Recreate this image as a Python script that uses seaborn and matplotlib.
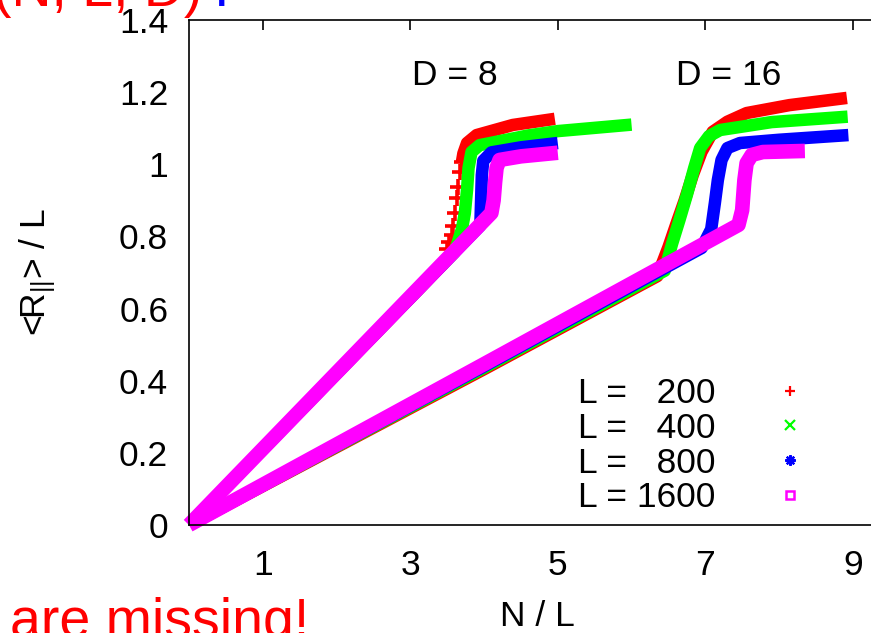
import numpy as np
import pandas as pd
import matplotlib
matplotlib.use("Agg")
import matplotlib.pyplot as plt
import seaborn as sns
from matplotlib.lines import Line2D
from matplotlib.ticker import FuncFormatter

sns.set_theme(style="white")
plt.rcParams['font.family'] = ['Liberation Sans', 'DejaVu Sans']
plt.rcParams['mathtext.fontset'] = 'custom'
plt.rcParams['mathtext.rm'] = 'Liberation Sans'
plt.rcParams['mathtext.it'] = 'Liberation Sans:italic'
for k in ['text.color', 'axes.labelcolor', 'xtick.color', 'ytick.color', 'axes.edgecolor']:
    plt.rcParams[k] = 'black'

# ---------------- data ----------------
L_labels = ["L =   200", "L =   400", "L =   800", "L = 1600"]
colors = ["#ff0000", "#00ff00", "#0000ff", "#ff00ff"]

# D = 8
d8_L200_x = [0.0, 1.0, 2.0, 3.0, 3.45]
d8_L200_y = [0.0, 0.21, 0.42, 0.63, 0.725]
d8_L200_top_x = [3.70, 3.72, 3.77, 3.90, 4.39, 4.96]
d8_L200_top_y = [1.006, 1.03, 1.059, 1.081, 1.109, 1.126]
d8_L200_steep_x = [3.50, 3.53, 3.56, 3.58, 3.60, 3.63, 3.65, 3.67, 3.70]
d8_L200_steep_y = [0.765, 0.785, 0.804, 0.83, 0.865, 0.906, 0.937, 0.979, 1.006]

d8_L400_x = [0.0, 1.0, 2.0, 3.0, 3.6, 3.7, 3.74, 3.77, 3.79, 3.83, 3.94, 4.6, 5.0, 6.0]
d8_L400_y = [0.0, 0.21, 0.42, 0.63, 0.756, 0.82, 0.865, 0.93, 0.99, 1.034, 1.053, 1.08, 1.092, 1.11]

d8_L800_x = [0.0, 1.0, 2.0, 3.0, 3.95, 3.96, 3.97, 3.99, 4.1, 4.5, 5.0]
d8_L800_y = [0.0, 0.21, 0.42, 0.63, 0.83, 0.9, 0.97, 1.01, 1.033, 1.047, 1.059]

d8_L1600_x = [0.0, 1.0, 2.0, 3.0, 4.1, 4.13, 4.15, 4.17, 4.21, 4.5, 5.0]
d8_L1600_y = [0.0, 0.211, 0.422, 0.633, 0.865, 0.9, 0.95, 0.99, 1.012, 1.022, 1.032]

# D = 16
d16_L200_x = [0.0, 2.0, 4.0, 6.35, 6.5, 6.6, 6.72, 6.83, 6.95, 7.1, 7.3, 7.56, 8.14, 8.92]
d16_L200_y = [0.0, 0.216, 0.432, 0.69, 0.77, 0.83, 0.9, 0.97, 1.035, 1.09, 1.118, 1.142, 1.164, 1.184]

d16_L400_x = [0.0, 2.0, 4.0, 6.45, 6.55, 6.65, 6.75, 6.85, 6.93, 7.05, 7.2, 7.9, 8.93]
d16_L400_y = [0.0, 0.218, 0.436, 0.705, 0.78, 0.846, 0.915, 0.99, 1.045, 1.078, 1.095, 1.117, 1.132]

d16_L800_x = [0.0, 2.0, 4.0, 6.95, 7.08, 7.13, 7.17, 7.22, 7.3, 7.47, 8.0, 8.94]
d16_L800_y = [0.0, 0.22, 0.44, 0.768, 0.82, 0.893, 0.956, 1.012, 1.045, 1.059, 1.068, 1.081]

d16_L1600_x = [0.0, 2.0, 4.0, 7.45, 7.5, 7.53, 7.56, 7.63, 7.78, 8.35]
d16_L1600_y = [0.0, 0.223, 0.446, 0.832, 0.873, 0.956, 1.003, 1.026, 1.034, 1.037]

x_ticks = [1, 3, 5, 7, 9]
y_ticks = [0, 0.2, 0.4, 0.6, 0.8, 1.0, 1.2, 1.4]

# ---------------- figure ----------------
W, H = 871, 633
FS = 25.5
fig = plt.figure(figsize=(W / 100, H / 100), dpi=100)
ax_l, ax_r, ax_t, ax_b = 189, 886, 20, 525
ax = fig.add_axes([ax_l / W, 1 - ax_b / H, (ax_r - ax_l) / W, (ax_b - ax_t) / H])

def band(x, y, c, lw, clip=True):
    sns.lineplot(x=x, y=y, color=c, linewidth=lw, sort=False, estimator=None,
                 ax=ax, solid_capstyle='butt', clip_on=clip)

lw_small, lw_big = 9.0, 10.5
# L = 200
band(d8_L200_x, d8_L200_y, colors[0], lw_small)
band(d8_L200_top_x, d8_L200_top_y, colors[0], lw_small)
sns.scatterplot(x=d8_L200_steep_x, y=d8_L200_steep_y, marker='+', color=colors[0],
                s=120, linewidth=2.6, ax=ax)
band(d16_L200_x, d16_L200_y, colors[0], lw_small)
# L = 400
band(d8_L400_x, d8_L400_y, colors[1], lw_small)
band(d16_L400_x, d16_L400_y, colors[1], lw_small)
# L = 800
band(d8_L800_x, d8_L800_y, colors[2], lw_small)
band(d16_L800_x, d16_L800_y, colors[2], lw_small)
# L = 1600
band(d8_L1600_x, d8_L1600_y, colors[3], lw_big, clip=False)
band(d16_L1600_x, d16_L1600_y, colors[3], lw_big, clip=False)

ax.set_xlim(0, 9.45)
ax.set_ylim(0, 1.4)
ax.set_xticks(x_ticks)
ax.set_yticks(y_ticks)
ax.yaxis.set_major_formatter(FuncFormatter(lambda v, p: f"{v:g}"))
ax.tick_params(direction='in', length=7, width=1.2, top=True, right=True,
               labelsize=FS, colors='black')
ax.tick_params(axis='x', pad=17)
ax.tick_params(axis='y', pad=15)
for s in ax.spines.values():
    s.set_color('black')
    s.set_linewidth(1.2)
    s.set_zorder(5)

ax.set_xlabel("N / L", fontsize=FS, labelpad=13)
ax.set_ylabel(r"<R$_\mathrm{||}$> / L", fontsize=FS)
ax.yaxis.set_label_coords((58 - ax_l) / (ax_r - ax_l), 0.5)

ax.text(3.02, 1.22, "D = 8", fontsize=FS, ha='left', va='baseline')
ax.text(6.6, 1.22, "D = 16", fontsize=FS, ha='left', va='baseline')

# legend
markers = ['+', 'x', (8, 2, 0), 's']
handles = []
for c, m in zip(colors, markers):
    if m == 's':
        handles.append(Line2D([], [], ls='none', marker=m, color=c, markerfacecolor='none',
                              markersize=6, markeredgewidth=1.8))
    else:
        handles.append(Line2D([], [], ls='none', marker=m, color=c,
                              markersize=7.5, markeredgewidth=1.6))
leg = ax.legend(handles, L_labels, loc='upper left',
                bbox_to_anchor=(578 / W, 1 - 377 / H), bbox_transform=fig.transFigure,
                frameon=False, markerfirst=False, fontsize=FS, handlelength=1.0,
                handletextpad=1.6, labelspacing=0.05, borderpad=0, borderaxespad=0)

# cropped red overlay texts
fig.text(202 / W, 1 - 6 / H, "(N, L, D)", fontsize=40, color='red', ha='right', va='baseline')
fig.text(214 / W, 1 - 6 / H, ":", fontsize=40, color='blue', ha='left', va='baseline')
fig.text(10 / W, -4 / H, "are missing!", fontsize=40, color='red', ha='left', va='baseline')

fig.savefig("out.png", dpi=100)
